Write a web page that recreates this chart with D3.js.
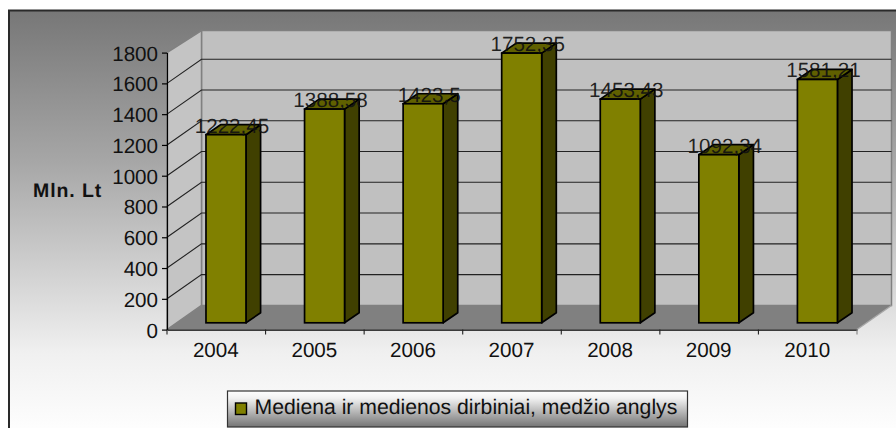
<!DOCTYPE html>
<html><head><meta charset="utf-8">
<script src="https://cdn.jsdelivr.net/npm/d3@7"></script>
<style>html,body{margin:0;padding:0;background:#fff}svg{display:block}text{font-family:"Liberation Sans",Arial,sans-serif;fill:#111;text-rendering:geometricPrecision}</style>
</head><body><svg id="c" width="896" height="428"></svg>
<script>
const years = ["2004","2005","2006","2007","2008","2009","2010"];
const values = [1222.45,1388.58,1423.5,1752.35,1453.43,1092.34,1581.21];
const valueLabels = ["1222,45","1388,58","1423,5","1752,35","1453,43","1092,34","1581,21"];
const yTicks = [0,200,400,600,800,1000,1200,1400,1600,1800];
const legendLabel = "Mediena ir medienos dirbiniai, medžio anglys";
const axisTitle = "Mln. Lt";

const svg = d3.select("#c");
const W = 896, H = 428;
const x = d3.scaleBand().domain(years).range([167,857]).paddingInner(0).paddingOuter(0);
const y = d3.scaleLinear().domain([0,1800]).range([329.6,52.6]);
const DX = 34.5, DY = 24.2;       // wall depth
const BDX0 = 10, BDY0 = 6.8;      // bar front offset in depth
const BDX = 14.6, BDY = 10;       // bar own depth
const BW = 40;
const FS = 20.6;

const defs = svg.append("defs");
const grad = (id,stops)=>{const g=defs.append("linearGradient").attr("id",id).attr("x1",0).attr("x2",0).attr("y1",0).attr("y2",1);
  stops.forEach(s=>g.append("stop").attr("offset",s[0]).attr("stop-color",s[1]));};
grad("bg",[[0,"#777777"],[0.35,"#a6a6a6"],[0.8,"#f0f0f0"],[1,"#ffffff"]]);
grad("lg",[[0,"#ffffff"],[0.2,"#f2f2f2"],[1,"#747474"]]);

// chart area
svg.append("rect").attr("x",9).attr("y",10.5).attr("width",W).attr("height",H).attr("fill","url(#bg)").attr("stroke","#2a2a2a").attr("stroke-width",2);

const pts = a=>a.map(p=>p.join(",")).join(" ");
const x0 = x.range()[0], x1 = x.range()[1], yb = y(0), yt = y(1800);
const wallTop = yt-DY+2.2;

// back wall, side wall, floor
svg.append("polygon").attr("points",pts([[x0+DX,wallTop],[x1+DX,wallTop],[x1+DX,yb-DY],[x0+DX,yb-DY]])).attr("fill","#c0c0c0").attr("stroke","#808080").attr("stroke-width",1.5);
svg.append("polygon").attr("points",pts([[x0,yt],[x0+DX,wallTop],[x0+DX,yb-DY],[x0,yb]])).attr("fill","#c4c4c4").attr("stroke","#808080").attr("stroke-width",1.5);
svg.append("polygon").attr("points",pts([[x0,yb],[x1,yb],[x1+DX,yb-DY],[x0+DX,yb-DY]])).attr("fill","#808080");
svg.append("line").attr("x1",x1).attr("y1",yb).attr("x2",x1+DX).attr("y2",yb-DY).attr("stroke","#a8a8a8").attr("stroke-width",1.2);

// gridlines (side + back)
yTicks.slice(1,-1).forEach(t=>{
  svg.append("polyline").attr("fill","none").attr("stroke","#222").attr("stroke-width",1.1)
    .attr("points",pts([[x0,y(t)],[x0+DX,y(t)-DY],[x1+DX,y(t)-DY]]));
});

// bars
const g = svg.append("g");
const h = v => y(0)-y(v);
years.forEach((c,i)=>{
  const v = values[i];
  const l = x(c)+x.bandwidth()/2-BW/2+BDX0-0.3, r = l+BW, b = yb-BDY0, t = b-h(v);
  g.append("polygon").attr("points",pts([[r,t],[r+BDX,t-BDY],[r+BDX,b-BDY],[r,b]])).attr("fill","#404000").attr("stroke","#000").attr("stroke-width",1.7).attr("stroke-linejoin","round");
  g.append("polygon").attr("points",pts([[l,t],[l+BDX,t-BDY],[r+BDX,t-BDY],[r,t]])).attr("fill","#606000").attr("stroke","#000").attr("stroke-width",1.7).attr("stroke-linejoin","round");
  g.append("rect").attr("x",l).attr("y",t).attr("width",BW).attr("height",b-t).attr("fill","#808000").attr("stroke","#000").attr("stroke-width",1.7);
});

// axes
const yAxis = d3.axisLeft(y).tickValues(yTicks).tickFormat(d3.format("d")).tickSize(5).tickSizeOuter(0).tickPadding(4);
const yg = svg.append("g").attr("transform",`translate(${x0},0)`).call(yAxis);
yg.selectAll("path,line").attr("stroke","#000").attr("stroke-width",1.2);
yg.selectAll("text").attr("font-size",FS).attr("fill","#111").attr("dy","0.36em");
yg.attr("font-family",null);

const xAxis = d3.axisBottom(x).tickSize(0).tickSizeOuter(0).tickPadding(14);
const xg = svg.append("g").attr("transform",`translate(0,${yb})`).call(xAxis);
xg.attr("font-family",null);
xg.selectAll("path").attr("stroke","#000").attr("stroke-width",1.2);
xg.selectAll("text").attr("font-size",FS).attr("fill","#111").attr("dx",-0.5).attr("dy","0.71em").attr("y",13);
[x0].concat(years.map(c=>x(c)+x.step())).forEach((p,i)=>{
  svg.append("line").attr("x1",p).attr("x2",p).attr("y1",yb).attr("y2",yb+5).attr("stroke",i==7?"#808080":"#222").attr("stroke-width",1.1);
});

// data labels
years.forEach((c,i)=>{
  const cx = x(c)+x.bandwidth()/2+BDX0-0.3+6;
  svg.append("text").attr("x",cx).attr("y",yb-BDY0-h(values[i])-2).attr("text-anchor","middle").attr("font-size",FS).attr("fill","#111").attr("fill-opacity",0.92).text(valueLabels[i]);
});

// axis title
svg.append("text").attr("x",33).attr("y",196.7).attr("font-size",19.5).attr("font-weight","bold").attr("letter-spacing",0.9).text(axisTitle);

// legend
svg.append("rect").attr("x",227.5).attr("y",391).attr("width",460).attr("height",36).attr("fill","url(#lg)").attr("stroke","#333").attr("stroke-width",1.2);
svg.append("rect").attr("x",235.5).attr("y",403).attr("width",11).attr("height",11.5).attr("fill","#808000").attr("stroke","#000").attr("stroke-width",1.4);
svg.append("text").attr("x",254.5).attr("y",413.5).attr("font-size",21.2).text(legendLabel);
</script></body></html>
